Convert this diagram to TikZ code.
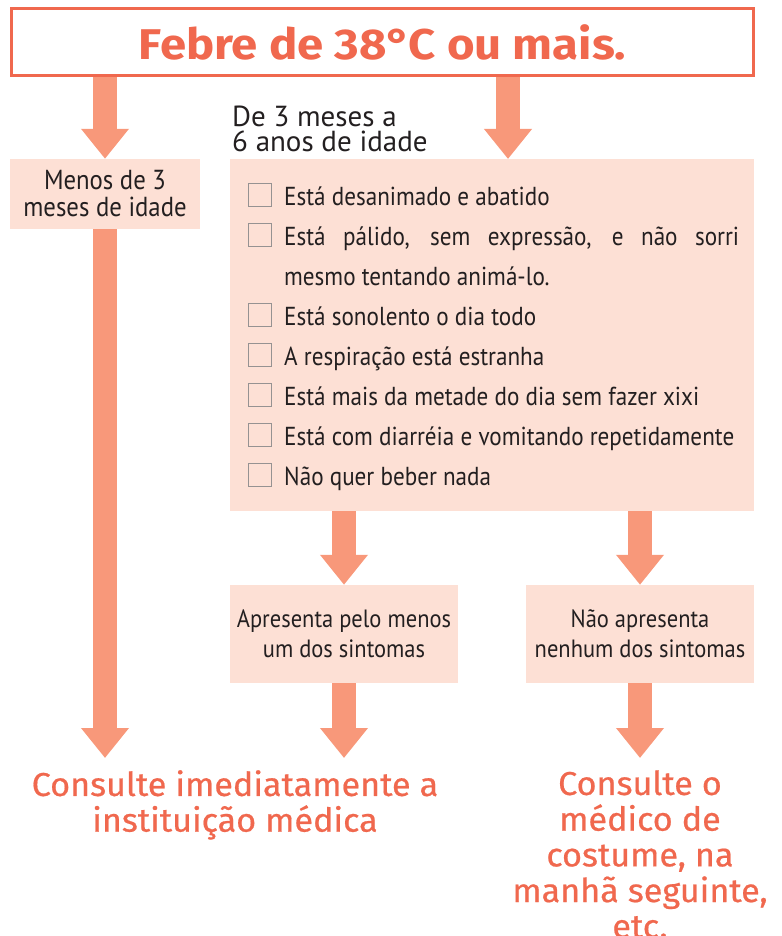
\documentclass[tikz,border=0pt]{standalone}
\usepackage{fontspec}
\setmainfont{PT Sans}
\newfontfamily\narrowfont{PT Sans}[FakeStretch=0.9]
\newfontfamily\listfont{PT Sans}[FakeStretch=0.89]
\newfontfamily\titlefont{Fira Sans}[FakeStretch=1.1]
\newfontfamily\resfont{Fira Sans}[FakeBold=0.6,FakeStretch=1.035]
\usetikzlibrary{arrows.meta,positioning}
\definecolor{febre}{RGB}{240,104,78}
\definecolor{seta}{RGB}{248,152,122}
\definecolor{rosa}{RGB}{253,224,213}
\definecolor{tinta}{RGB}{35,31,32}
\definecolor{caixa}{RGB}{150,146,146}
\newcommand{\itemfont}{\listfont\fontsize{26}{40}\selectfont}

\tikzset{
  rosabox/.style={fill=rosa, inner sep=0pt, align=center, text=tinta},
  seta/.style={draw=seta, line width=24pt, -{Triangle[width=46pt,length=30pt]}},
  checkbox/.style={draw=caixa, line width=0.9pt, minimum size=23pt, inner sep=0pt},
  itemtxt/.style={anchor=base west, inner sep=0pt, text=tinta, font=\itemfont},
  result/.style={anchor=north, inner sep=0pt, inner ysep=12pt, align=center, text=febre,
    font=\resfont\fontsize{33}{35.7}\selectfont},
}

\begin{document}
\begin{tikzpicture}[x=1pt,y=-1pt]
  \useasboundingbox (0,0) rectangle (781,936);

  % title
  \node (title) at (382.5,42.5) [draw=febre, line width=3pt, minimum width=742pt, minimum height=67pt,
     inner sep=0pt, text=febre, font=\titlefont\bfseries\fontsize{43}{43}\selectfont] {Febre de 38°\kern-3pt C ou mais.};

  % left branch
  \node (menos) at (105,194) [rosabox, minimum width=190pt, minimum height=70pt,
     font=\narrowfont\fontsize{27.5}{27}\selectfont] {Menos de 3\\meses de idade};
  \node (idade) at (232,152) [anchor=base west, inner sep=0pt, align=left, text=tinta,
     font=\fontsize{29}{25}\selectfont] {De 3 meses a\\6 anos de idade};

  % checklist
  \node (check) at (492,335) [rosabox, minimum width=524pt, minimum height=352pt] {};
  \coordinate (checktop) at (508,159);
  \foreach \y/\txt in {205/{Está desanimado e abatido},
                       325/{Está sonolento o dia todo},
                       365/{A respiração está estranha},
                       405/{Está mais da metade do dia sem fazer xixi},
                       445/{Está com diarréia e vomitando repetidamente},
                       485/{Não quer beber nada}}{
    \node (box\y) at (259.5,\y-10) [checkbox] {};
    \node (item\y) at (284,\y) [itemtxt] {\txt};
  }
  \node (box245) at (259.5,235) [checkbox] {};
  \node (item245) at (284,245) [itemtxt] {\makebox[455pt][s]{Está pálido, sem expressão, e não sorri}};
  \node (item285) at (284,285) [itemtxt] {mesmo tentando animá-lo.};

  % outcomes
  \node (sim) at (344,634) [rosabox, minimum width=228pt, minimum height=98pt,
     font=\narrowfont\fontsize{25}{30}\selectfont] {Apresenta pelo menos\\um dos sintomas};
  \node (nao) at (640,634) [rosabox, minimum width=228pt, minimum height=98pt,
     font=\narrowfont\fontsize{25}{30}\selectfont] {Não apresenta\\nenhum dos sintomas};

  \node (res1) at (235,758) [result] {Consulte imediatamente a\\instituição médica};
  \node (res2) at (640,758) [result] {Consulte o\\médico de\\costume, na\\manhã seguinte,\\etc.};

  % arrows
  \draw[seta] (title.south -| menos) -- (menos.north);
  \draw[seta] (title.south -| checktop) -- (checktop);
  \draw[seta] (check.south -| sim) -- (sim.north);
  \draw[seta] (check.south -| nao) -- (nao.north);
  \draw[seta] (menos.south) -- (res1.north -| menos);
  \draw[seta] (sim.south) -- (res1.north -| sim);
  \draw[seta] (nao.south) -- (res2.north);
\end{tikzpicture}
\end{document}
